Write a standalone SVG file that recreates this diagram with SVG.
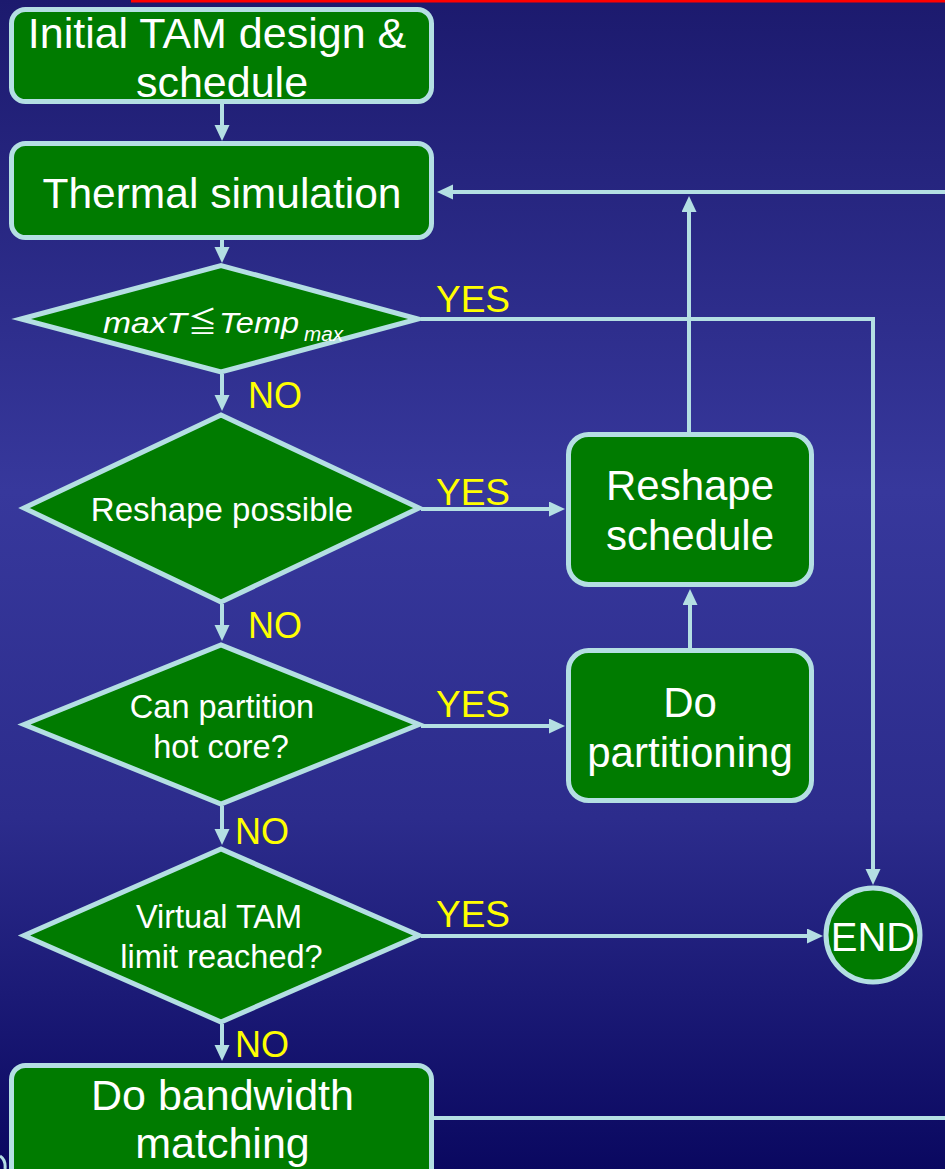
<svg xmlns="http://www.w3.org/2000/svg" width="945" height="1169" viewBox="0 0 945 1169">
<defs>
<linearGradient id="bg" x1="0" y1="0" x2="0" y2="1">
<stop offset="0" stop-color="#1c1a6e"/>
<stop offset="0.42" stop-color="#37389c"/>
<stop offset="0.7" stop-color="#2c2c8c"/>
<stop offset="1" stop-color="#0a0860"/>
</linearGradient>
<marker id="ah" markerUnits="userSpaceOnUse" markerWidth="16" markerHeight="16" refX="6" refY="7.5" orient="auto">
<path d="M0,0 L16,7.5 L0,15 z" fill="#b4dfe3"/>
</marker>
<style>
.box{fill:#007b00;stroke:#b4dfe3;stroke-width:5}
.t{fill:#ffffff;font-family:"Liberation Sans",Arial,sans-serif;text-anchor:middle}
.it{fill:#ffffff;font-family:"Liberation Sans",Arial,sans-serif;font-style:italic}
.lbl{fill:#ffff00;font-family:"Liberation Sans",Arial,sans-serif;font-size:37px}
.c{fill:none;stroke:#b4dfe3;stroke-width:4}
.ca{fill:none;stroke:#b4dfe3;stroke-width:4;marker-end:url(#ah)}
</style>
</defs>
<rect x="0" y="0" width="945" height="1169" fill="url(#bg)"/>
<rect x="131" y="0" width="814" height="2.5" fill="#ff0000"/>
<path d="M0,1156 Q6,1160 5,1169" fill="none" stroke="#b4dfe3" stroke-width="3"/>

<g id="connectors">
<path class="ca" d="M222,104 L222,131"/>
<path class="ca" d="M222,240 L222,253"/>
<path class="ca" d="M222,374 L222,401"/>
<path class="ca" d="M222,604 L222,631"/>
<path class="ca" d="M222,806 L222,835"/>
<path class="ca" d="M222,1024 L222,1051"/>
<path class="ca" d="M421,319 L873,319 L873,875"/>
<path class="ca" d="M421,509 L555,509"/>
<path class="ca" d="M421,726 L555,726"/>
<path class="ca" d="M421,936 L813,936"/>
<path class="ca" d="M690,648 L690,599"/>
<path class="ca" d="M689,432 L689,206"/>
<path class="ca" d="M945,192 L447,192"/>
<path class="c" d="M433,1118 L945,1118"/>
<text class="lbl" x="436" y="312">YES</text>
<text class="lbl" x="436" y="505">YES</text>
<text class="lbl" x="436" y="717">YES</text>
<text class="lbl" x="436" y="927">YES</text>
<text class="lbl" x="248" y="408" style="font-size:36px">NO</text>
<text class="lbl" x="248" y="638" style="font-size:36px">NO</text>
<text class="lbl" x="235" y="844" style="font-size:36px">NO</text>
<text class="lbl" x="235" y="1057" style="font-size:36px">NO</text>
</g>

<g id="n-init">
<rect class="box" x="11.5" y="9.5" width="420" height="92" rx="14"/>
<text class="t" x="217" y="48" font-size="43">Initial TAM design &amp;</text>
<text class="t" x="222" y="97" font-size="43">schedule</text>
</g>

<g id="n-thermal">
<rect class="box" x="11.5" y="143.5" width="420" height="94" rx="14"/>
<text class="t" x="222" y="208" font-size="42.5">Thermal simulation</text>
</g>

<g id="n-maxT">
<polygon class="box" points="21,319 221,265.5 418,319 221,372"/>
<text class="it" x="103" y="333" font-size="30" textLength="84" lengthAdjust="spacingAndGlyphs">maxT</text>
<text x="188" y="333" fill="#ffffff" font-family="'Noto Sans CJK JP','DejaVu Sans',sans-serif" font-size="29">≦</text>
<text class="it" x="219" y="333" font-size="30" textLength="80" lengthAdjust="spacingAndGlyphs">Temp</text>
<text class="it" x="304" y="341" font-size="20" textLength="39" lengthAdjust="spacingAndGlyphs">max</text>
</g>

<g id="n-reshape-possible">
<polygon class="box" points="24,508 221,415 419,508 221,602"/>
<text class="t" x="222" y="521" font-size="33">Reshape possible</text>
</g>

<g id="n-partition-q">
<polygon class="box" points="24,724.5 221,645 419,724.5 221,804"/>
<text class="t" x="222" y="718" font-size="32.5">Can partition</text>
<text class="t" x="221" y="758" font-size="32.5">hot core?</text>
</g>

<g id="n-vtam">
<polygon class="box" points="24,935.5 221,849 419,935.5 221,1022"/>
<text class="t" x="219" y="928" font-size="32.5">Virtual TAM</text>
<text class="t" x="221.5" y="968" font-size="32.5">limit reached?</text>
</g>

<g id="n-reshape">
<rect class="box" x="568.5" y="434.5" width="243" height="150" rx="20"/>
<text class="t" x="690" y="500" font-size="42">Reshape</text>
<text class="t" x="690" y="550" font-size="42">schedule</text>
</g>

<g id="n-partition">
<rect class="box" x="568.5" y="650.5" width="243" height="150" rx="20"/>
<text class="t" x="690" y="717" font-size="42">Do</text>
<text class="t" x="690" y="767" font-size="42">partitioning</text>
</g>

<g id="n-end">
<circle class="box" cx="873" cy="935" r="47"/>
<text class="t" x="873" y="951" font-size="40">END</text>
</g>

<g id="n-bandwidth">
<rect class="box" x="11.5" y="1065.5" width="420" height="130" rx="14"/>
<text class="t" x="222.5" y="1110" font-size="43">Do bandwidth</text>
<text class="t" x="222.5" y="1158" font-size="43">matching</text>
</g>
</svg>
